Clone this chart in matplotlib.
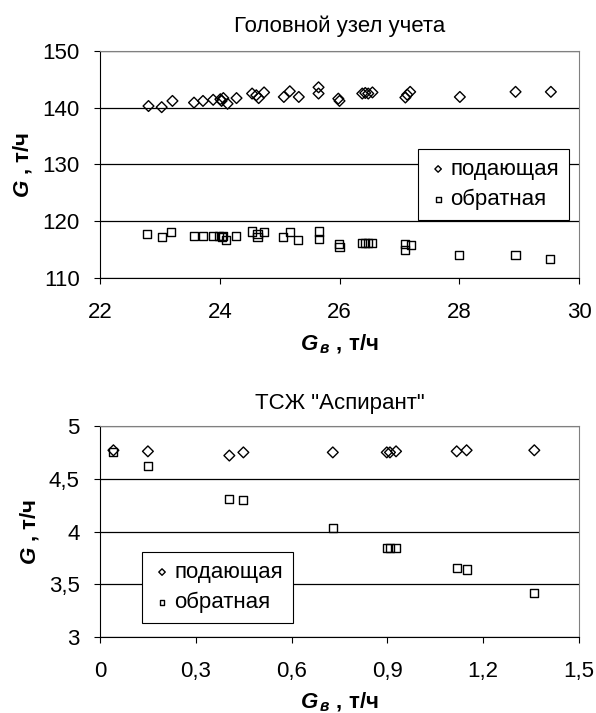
import matplotlib
matplotlib.use("Agg")
import matplotlib.pyplot as plt

plt.rcParams['font.family'] = ['Liberation Sans', 'DejaVu Sans']
plt.rcParams['mathtext.fontset'] = 'custom'
plt.rcParams['mathtext.rm'] = 'Liberation Sans'
plt.rcParams['mathtext.it'] = 'Liberation Sans:italic'
plt.rcParams['mathtext.bf'] = 'Liberation Sans:bold'
plt.rcParams['mathtext.bfit'] = 'Liberation Sans:italic:bold'

# --- Головной узел учета ---
head_supply_x = [22.81, 23.03, 23.21, 23.57, 23.72, 23.89, 24.01, 24.06, 24.03, 24.13,
                 24.28, 24.54, 24.61, 24.65, 24.74, 25.07, 25.17, 25.32, 25.65, 25.65,
                 25.98, 26.0, 26.38, 26.43, 26.48, 26.55, 27.1, 27.13, 27.18, 28.01,
                 28.94, 29.53]
head_supply_y = [140.3, 140.1, 141.2, 140.9, 141.2, 141.4, 141.5, 141.7, 141.2, 140.7,
                 141.7, 142.5, 142.2, 141.7, 142.7, 141.9, 142.9, 141.9, 143.6, 142.5,
                 141.6, 141.2, 142.5, 142.6, 142.5, 142.7, 141.8, 142.3, 142.8, 141.9,
                 142.8, 142.8]
head_return_x = [22.79, 23.03, 23.19, 23.57, 23.72, 23.89, 23.98, 24.06, 24.03, 24.11,
                 24.27, 24.54, 24.63, 24.63, 24.74, 25.06, 25.17, 25.31, 25.65, 25.65,
                 25.99, 26.0, 26.38, 26.43, 26.48, 26.55, 27.1, 27.1, 27.2, 28.0,
                 28.94, 29.51]
head_return_y = [117.75, 117.2, 118.05, 117.45, 117.45, 117.45, 117.45, 117.45, 117.2, 116.7,
                 117.45, 118.2, 117.3, 117.7, 118.05, 117.2, 118.05, 116.7, 118.2, 116.8,
                 116.0, 115.4, 116.2, 116.2, 116.2, 116.2, 114.9, 116.0, 115.8, 114.1,
                 114.1, 113.3]

# --- ТСЖ "Аспирант" ---
asp_x = [0.042, 0.15, 0.405, 0.449, 0.729, 0.898, 0.908, 0.927, 1.117, 1.148, 1.36]
asp_supply_y = [4.77, 4.76, 4.72, 4.75, 4.75, 4.75, 4.75, 4.76, 4.76, 4.77, 4.77]
asp_return_y = [4.75, 4.62, 4.31, 4.30, 4.03, 3.84, 3.84, 3.84, 3.65, 3.64, 3.42]

fig = plt.figure(figsize=(5.96, 7.13), dpi=100)
ax1 = fig.add_axes([0.1678, 0.6101, 0.8037, 0.3184])
ax2 = fig.add_axes([0.1678, 0.1066, 0.8037, 0.2959])

ylab = r'$\mathbfit{G}$ , т/ч'
xlab = r'$\mathbfit{G}_{\,\mathbfit{в}}$ , т/ч'
FS = 16


def style_axes(ax):
    ax.yaxis.grid(True, color='black', linewidth=0.9)
    ax.set_axisbelow(True)
    for s in ['top', 'right']:
        ax.spines[s].set_color('#808080')
    for s in ['left', 'bottom']:
        ax.spines[s].set_color('black')
    ax.tick_params(axis='both', direction='out', length=4.5, labelsize=FS,
                   color='black')
    ax.tick_params(axis='y', pad=10)
    ax.tick_params(axis='x', pad=13)


def draw(ax, xs, ys, xr, yr):
    ax.scatter(xs, ys, marker='D', s=30, facecolors='none', edgecolors='black',
               linewidths=1.0, label='подающая', zorder=3)
    ax.scatter(xr, yr, marker='s', s=34, facecolors='none', edgecolors='black',
               linewidths=1.0, label='обратная', zorder=3)


def add_legend(ax, loc, anchor):
    leg = ax.legend(loc=loc, bbox_to_anchor=anchor, fontsize=FS,
                    frameon=True, fancybox=False, edgecolor='black', framealpha=1,
                    handletextpad=0.1, borderpad=0.45, labelspacing=0.4,
                    handlelength=0.9, markerscale=0.6, borderaxespad=0)
    leg.get_frame().set_linewidth(0.8)


draw(ax1, head_supply_x, head_supply_y, head_return_x, head_return_y)
ax1.set_xlim(22, 30)
ax1.set_ylim(110, 150)
ax1.set_xticks([22, 24, 26, 28, 30])
ax1.set_yticks([110, 120, 130, 140, 150])
style_axes(ax1)
ax1.set_title('Головной узел учета', fontsize=FS, pad=14)
ax1.set_ylabel(ylab, fontsize=FS, fontweight='bold', labelpad=6)
ax1.set_xlabel(xlab, fontsize=FS, fontweight='bold', labelpad=7)
add_legend(ax1, 'lower right', (0.979, 0.2555))

draw(ax2, asp_x, asp_supply_y, asp_x, asp_return_y)
ax2.set_xlim(0, 1.5)
ax2.set_ylim(3, 5)
ax2.set_xticks([0, 0.3, 0.6, 0.9, 1.2, 1.5])
ax2.set_xticklabels(['0', '0,3', '0,6', '0,9', '1,2', '1,5'])
ax2.set_yticks([3, 3.5, 4, 4.5, 5])
ax2.set_yticklabels(['3', '3,5', '4', '4,5', '5'])
style_axes(ax2)
ax2.set_title('ТСЖ "Аспирант"', fontsize=FS, pad=12)
ax2.set_ylabel(ylab, fontsize=FS, fontweight='bold', labelpad=6)
ax2.set_xlabel(xlab, fontsize=FS, fontweight='bold', labelpad=6)
add_legend(ax2, 'lower left', (0.0877, 0.066))

fig.savefig('out.png', dpi=100, facecolor='white')
